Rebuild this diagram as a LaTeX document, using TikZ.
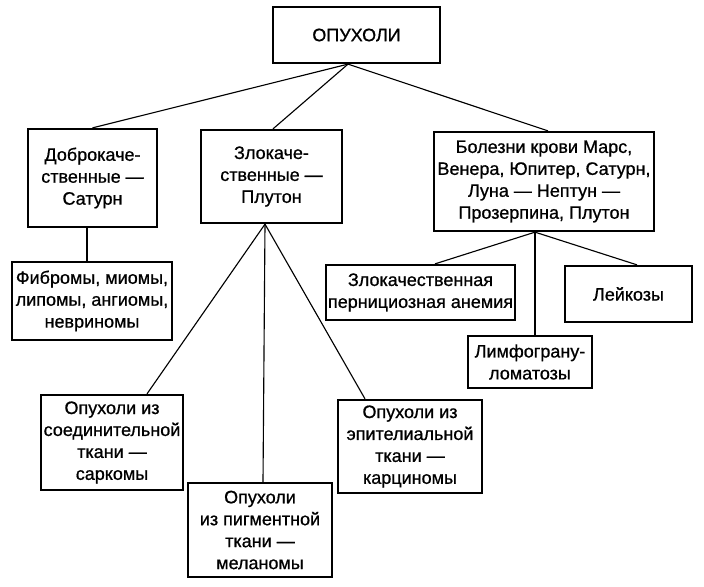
\documentclass[tikz,border=0pt]{standalone}
\usepackage{fontspec}
\setmainfont{Liberation Sans}
\newfontfamily\boxfont{Liberation Sans}[FakeBold=0.8, Ligatures=TeX]
\usetikzlibrary{calc}

\begin{document}
\begin{tikzpicture}[x = 0.025cm, y = -0.025cm,
  box/.style = {draw, line width = 1.6pt, align = center, inner sep = 0pt,
    font = \boxfont\fontsize{12.8}{15.6}\selectfont},
  link/.style = {line width = 0.8pt}]
\useasboundingbox (0, 0) rectangle (704, 586);
\node[box, minimum width = 4.175cm, minimum height = 1.4cm] (opuh) at (356.5, 35) {ОПУХОЛИ};
\node[box, minimum width = 3.225cm, minimum height = 2.45cm] (dobro) at (92.5, 178) {Доброкаче-\\ственные ---\\Сатурн};
\node[box, minimum width = 3.525cm, minimum height = 2.325cm] (zlo) at (271.5, 176.5) {Злокаче-\\ственные ---\\Плутон};
\node[box, minimum width = 5.5cm, minimum height = 2.475cm] (krov) at (544, 181.5) {Болезни крови Марс,\\Венера, Юпитер, Сатурн,\\Луна --- Нептун ---\\Прозерпина, Плутон};
\node[box, minimum width = 4cm, minimum height = 1.95cm] (fibr) at (92, 301) {Фибромы, миомы,\\липомы, ангиомы,\\невриномы};
\node[box, minimum width = 4.725cm, minimum height = 1.375cm] (pern) at (420.5, 292.5) {Злокачественная\\пернициозная анемия};
\node[box, minimum width = 3.175cm, minimum height = 1.4cm] (leik) at (628.5, 294) {Лейкозы};
\node[box, minimum width = 3.1cm, minimum height = 1.3cm] (limf) at (530, 362) {Лимфограну-\\ломатозы};
\node[box, minimum width = 3.55cm, minimum height = 2.375cm] (soed) at (112, 442.5) {Опухоли из\\соединительной\\ткани ---\\саркомы};
\node[box, minimum width = 3.6cm, minimum height = 2.35cm] (pigm) at (260, 530) {Опухоли\\из пигментной\\ткани ---\\меланомы};
\node[box, minimum width = 3.6cm, minimum height = 2.325cm] (epit) at (410, 446.5) {Опухоли из\\эпителиальной\\ткани ---\\карциномы};
\coordinate (opuhj) at ($(opuh.south) + (-8.5, 0)$);
\coordinate (zloj) at ($(zlo.south) + (-6.5, 0)$);
\coordinate (krovj) at ($(krov.south) + (-9, 0)$);
\draw[link] (opuhj) -- (dobro.north);
\draw[link] (opuhj) -- ($(zlo.north) + (1.5, 0)$);
\draw[link] (opuhj) -- ($(krov.north) + (4, 0)$);
\draw[link] ($(dobro.south) + (-5.5, 0)$) -- ($(fibr.north) + (-5, 0)$);
\draw[link] (zloj) -- ($(soed.north) + (35, 0)$);
\draw[link] (zloj) -- ($(pigm.north) + (3, 0)$);
\draw[link] (zloj) -- ($(epit.north) + (-45, 0)$);
\draw[link] (krovj) -- ($(pern.north) + (14.5, 0)$);
\draw[link] (krovj) -- ($(leik.north) + (8.5, 0)$);
\draw[link] (krovj) -- ($(limf.north) + (5, 0)$);
\end{tikzpicture}
\end{document}
